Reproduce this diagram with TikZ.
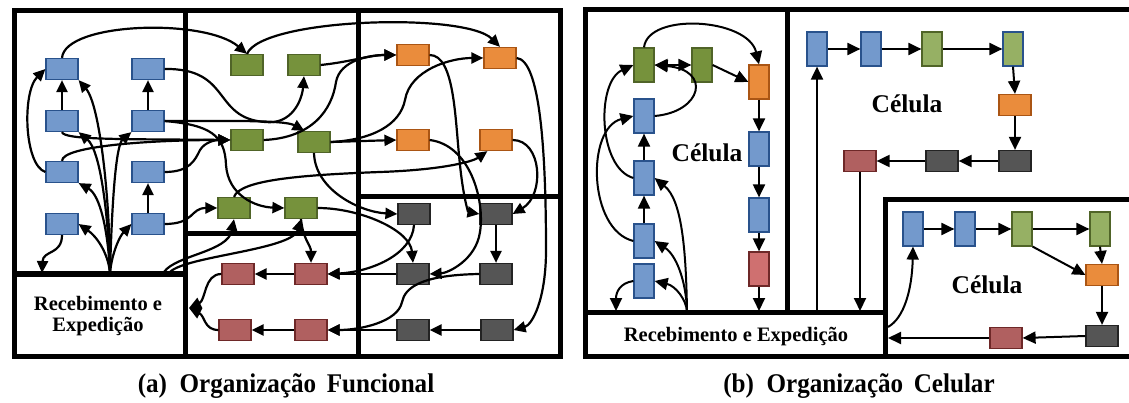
\documentclass[tikz,border=0pt]{standalone}
\usepackage{fontspec}
\setmainfont{Liberation Serif}[BoldFont={Liberation Serif Bold}]
\newfontfamily\tnrb{Liberation Serif Bold}
\usetikzlibrary{arrows.meta}
\definecolor{cblue}{RGB}{115,153,204}
\definecolor{cblueB}{RGB}{41,82,140}
\definecolor{cgreen}{RGB}{118,146,60}
\definecolor{cgreenB}{RGB}{80,100,40}
\definecolor{cgreenL}{RGB}{150,176,100}
\definecolor{corange}{RGB}{234,140,60}
\definecolor{corangeB}{RGB}{170,85,20}
\definecolor{cdark}{RGB}{85,85,85}
\definecolor{cdarkB}{RGB}{35,35,35}
\definecolor{cred}{RGB}{176,96,96}
\definecolor{credB}{RGB}{110,40,40}
\definecolor{credL}{RGB}{207,112,112}
\tikzset{
  hbox/.style={draw, line width=1.2pt, minimum width=32pt, minimum height=21pt, inner sep=0pt},
  vbox/.style={draw, line width=1.2pt, minimum width=20pt, minimum height=34pt, inner sep=0pt},
  bl/.style={fill=cblue, draw=cblueB},
  gr/.style={fill=cgreen, draw=cgreenB},
  grl/.style={fill=cgreenL, draw=cgreenB},
  og/.style={fill=corange, draw=corangeB},
  dk/.style={fill=cdark, draw=cdarkB},
  rd/.style={fill=cred, draw=credB},
  rdl/.style={fill=credL, draw=credB},
  conn/.style={line width=2.2pt, -{Triangle[length=12pt,width=11pt]}},
  connb/.style={line width=2pt, -{Triangle[length=13pt,width=12pt]}},
  frame/.style={line width=5pt, line cap=rect, line join=miter},
  rectext/.style={font=\tnrb\fontsize{20.5}{21.5}\selectfont, align=center, inner sep=0pt},
  celtext/.style={font=\tnrb\fontsize{25.5}{28}\selectfont, inner sep=0pt},
  captext/.style={font=\tnrb\fontsize{27}{30}\selectfont, inner sep=0pt, anchor=base},
}
\begin{document}
\begin{tikzpicture}[x=1pt, y=-1pt]
\useasboundingbox (0,0) rectangle (1129,403);
% ---------- frames (a)
\draw[frame] (14,11) rectangle (560,356);
\draw[frame] (185,11) -- (185,356);
\draw[frame] (358,11) -- (358,356);
\draw[frame] (14,274) -- (185,274);
\draw[frame] (185,234) -- (358,234);
\draw[frame] (358,197) -- (560,197);
% ---------- frames (b)
\draw[frame] (1140,10) -- (585,10) -- (585,356) -- (1140,356);
\draw[frame] (787,10) -- (787,312);
\draw[frame] (585,312) -- (885,312);
\draw[frame] (885,356) -- (885,200) -- (1140,200);

% ---------- texts
\node[rectext] (recA) at (98,316) {Recebimento e\\Expedição};
\node[rectext] (recB) at (736,337) {Recebimento e Expedição};
\node[celtext] (cel1) at (707,153) {Célula};
\node[celtext] (cel2) at (907,104) {Célula};
\node[celtext] (cel3) at (987,285) {Célula};
\node[captext] (capA) at (286,392) {\scalebox{0.93}[1]{(a)\hspace{0.5em}Organização\hspace{0.42em}Funcional}};
\node[captext] (capB) at (859,392) {\scalebox{0.93}[1]{(b)\hspace{0.5em}Organização\hspace{0.42em}Celular}};

% ---------- nodes (a)
\node[hbox,bl] (B1) at (62,69) {};
\node[hbox,bl] (B2) at (148,69) {};
\node[hbox,bl] (B3) at (62,121) {};
\node[hbox,bl] (B4) at (148,121) {};
\node[hbox,bl] (B5) at (62,172) {};
\node[hbox,bl] (B6) at (148,172) {};
\node[hbox,bl] (B7) at (62,224) {};
\node[hbox,bl] (B8) at (148,224) {};
\node[hbox,gr] (G1) at (247,65) {};
\node[hbox,gr] (G2) at (304,65) {};
\node[hbox,gr] (G3) at (247,140) {};
\node[hbox,gr] (G4) at (314,142) {};
\node[hbox,gr] (G5) at (234,208) {};
\node[hbox,gr] (G6) at (301,208) {};
\node[hbox,rd] (R1) at (238,274) {};
\node[hbox,rd] (R2) at (311,274) {};
\node[hbox,rd] (R3) at (235,330) {};
\node[hbox,rd] (R4) at (311,330) {};
\node[hbox,og] (O1) at (413,55) {};
\node[hbox,og] (O2) at (500,58) {};
\node[hbox,og] (O3) at (413,140) {};
\node[hbox,og] (O4) at (496,140) {};
\node[hbox,dk] (D1) at (414,214) {};
\node[hbox,dk] (D2) at (496,214) {};
\node[hbox,dk] (D3) at (413,274) {};
\node[hbox,dk] (D4) at (496,274) {};
\node[hbox,dk] (D5) at (413,330) {};
\node[hbox,dk] (D6) at (497,330) {};
\coordinate (fanA) at (110,273);
\coordinate (a7) at (42,273);
\coordinate (rG5) at (164,272);
\coordinate (rG6) at (170,272);
\coordinate (recR) at (189,308);

% ---------- connectors (a)
\draw[conn] (B3.north) -- (B1.south);
\draw[conn] (B4.north) -- (B2.south);
\draw[conn] (B8.north) -- (B6.south);
\draw[conn] (B5.west) .. controls (24,165) and (22,92) .. (B1.west);
\draw[conn] (B7.south) .. controls (62,255) and (43,250) .. (a7);
\draw[conn] (fanA) .. controls (110,200) and (100,105) .. (B1.south east);
\draw[conn] (fanA) .. controls (108,210) and (100,150) .. (B3.south east);
\draw[conn] (fanA) .. controls (112,200) and (116,145) .. (B4.south west);
\draw[conn] (fanA) .. controls (108,230) and (100,195) .. (B5.south east);
\draw[conn] (fanA) .. controls (108,252) and (96,236) .. (B7.east);
\draw[conn] (fanA) .. controls (112,252) and (120,236) .. (B8.west);
\draw[conn] (B1.north) .. controls (65,22) and (205,18) .. (G1.north);
\draw[conn] (G1.north) .. controls (262,18) and (465,12) .. (O2.north);
\draw[conn] (B2.east) .. controls (232,68) and (212,118) .. (265,122) .. controls (292,125) and (302,100) .. (G2.south);
\draw[conn] (G2.east) .. controls (350,62) and (370,55) .. (O1.west);
\draw[conn] (G3.east) .. controls (312,138) and (332,110) .. (336,82) .. controls (340,60) and (370,55) .. (O1.west);
\draw[conn] (G4.east) -- (O3.west);
\draw[conn] (G4.east) .. controls (372,140) and (400,125) .. (405,100) .. controls (410,70) and (450,58) .. (O2.west);
\draw[conn] (G5.north) .. controls (240,180) and (300,175) .. (380,172) .. controls (440,170) and (472,162) .. ([xshift=8pt]O4.south west);
\draw[conn] (B4.east) .. controls (230,121) and (285,120) .. ([xshift=7pt]G4.north west);
\draw[conn] (B4.east) .. controls (210,125) and (225,135) .. (226,165) .. controls (228,195) and (255,207) .. (G6.west);
\draw[conn] (B3.south) .. controls (64,140) and (120,139) .. (G3.west);
\draw[conn] (B5.north) .. controls (62,146) and (150,140) .. (G3.west);
\draw[conn] (B6.east) .. controls (190,172) and (195,160) .. (200,150) .. controls (205,142) and (215,140) .. (G3.west);
\draw[conn] (B8.east) .. controls (195,224) and (190,208) .. (G5.west);
\draw[conn] (rG5) .. controls (176,255) and (228,252) .. (G5.south);
\draw[conn] (rG6) .. controls (186,256) and (292,250) .. (G6.south);
\draw[conn] (G6.south) .. controls (303,240) and (311,245) .. (R2.north);
\draw[conn] (G6.east) .. controls (360,208) and (410,230) .. (D3.north);
\draw[conn] (G4.south) .. controls (315,190) and (360,212) .. (D1.west);
\draw[conn] (O1.east) .. controls (455,55) and (455,120) .. (460,165) .. controls (463,195) and (468,212) .. (D2.west);
\draw[conn] (O2.east) .. controls (540,60) and (546,150) .. (546,250) .. controls (546,300) and (532,325) .. (D6.east);
\draw[conn] (O3.east) .. controls (470,145) and (485,200) .. (480,232) .. controls (476,260) and (448,273) .. (D3.east);
\draw[conn] (O4.east) .. controls (542,140) and (545,195) .. (D2.east);
\draw[conn] (D2.south) -- (D4.north);
\draw[conn] (D1.south) .. controls (412,255) and (370,272) .. (R2.east);
\draw[conn] (D3.west) -- (R2.east);
\draw[conn] (D4.west) .. controls (420,275) and (405,288) .. (402,302) .. controls (398,322) and (360,330) .. (R4.east);
\draw[conn] (D5.west) -- (R4.east);
\draw[conn] (D6.west) -- (D5.east);
\draw[conn] (R2.west) -- (R1.east);
\draw[conn] (R4.west) -- (R3.east);
\draw[conn] (R1.west) .. controls (204,274) and (206,300) .. (recR);
\draw[conn] (R3.west) .. controls (204,330) and (205,316) .. (recR);

% ---------- nodes (b) left cell
\node[vbox,gr] (LG1) at (644,65) {};
\node[vbox,gr] (LG2) at (702,65) {};
\node[vbox,og] (LO) at (759,82) {};
\node[vbox,bl] (LB5) at (759,149) {};
\node[vbox,bl] (LB6) at (759,215) {};
\node[vbox,rdl] (LR) at (759,269) {};
\node[vbox,bl] (LB1) at (644,116) {};
\node[vbox,bl] (LB2) at (644,178) {};
\node[vbox,bl] (LB3) at (644,241) {};
\node[vbox,bl] (LB4) at (644,281) {};
\coordinate (fanB) at (687,311);
\coordinate (b1) at (616,311);
\coordinate (b2) at (759,311);

\draw[connb] (LG1.north) .. controls (648,12) and (748,18) .. (LO.north);
\draw[connb, {Triangle[length=13pt,width=12pt]}-{Triangle[length=13pt,width=12pt]}] (LG1.east) -- (LG2.west);
\draw[connb] (LB1.east) .. controls (702,112) and (712,70) .. (LG1.east);
\draw[connb] (LG2.east) -- (LO.west);
\draw[connb] (LO.south) -- (LB5.north);
\draw[connb] (LB5.south) -- (LB6.north);
\draw[connb] (LB6.south) -- (LR.north);
\draw[connb] (LR.south) -- (b2);
\draw[connb] (LB2.north) -- (LB1.south);
\draw[connb] (LB3.north) -- (LB2.south);
\draw[connb] (LB2.west) .. controls (598,168) and (596,82) .. (LG1.west);
\draw[connb] (LB3.west) .. controls (588,230) and (586,128) .. (LB1.west);
\draw[connb] (fanB) .. controls (686,250) and (682,200) .. (LB2.east);
\draw[connb] (fanB) .. controls (686,280) and (676,255) .. (LB3.east);
\draw[connb] (fanB) .. controls (686,300) and (676,286) .. (LB4.east);
\draw[connb] (LB4.west) .. controls (620,283) and (616,292) .. (b1);

% ---------- nodes (b) upper right
\node[vbox,bl] (UB1) at (817,49) {};
\node[vbox,bl] (UB2) at (871,49) {};
\node[vbox,grl] (UG1) at (932,49) {};
\node[vbox,grl,draw=cblueB] (UG2) at (1013,49) {};
\node[hbox,og] (UO) at (1015,105) {};
\node[hbox,dk] (UD1) at (1015,161) {};
\node[hbox,dk] (UD2) at (942,161) {};
\node[hbox,rd] (UR) at (860,161) {};
\coordinate (u1) at (817,311);
\coordinate (u2) at (860,311);
\draw[connb] (UB1.east) -- (UB2.west);
\draw[connb] (UB2.east) -- (UG1.west);
\draw[connb] (UG1.east) -- (UG2.west);
\draw[connb] (UG2.south) -- (UO.north);
\draw[connb] (UO.south) -- (UD1.north);
\draw[connb] (UD1.west) -- (UD2.east);
\draw[connb] (UD2.west) -- (UR.east);
\draw[connb] (UR.south) -- (u2);
\draw[connb] (u1) -- (UB1.south);

% ---------- nodes (b) lower right
\node[vbox,bl] (VB1) at (913,229) {};
\node[vbox,bl] (VB2) at (965,229) {};
\node[vbox,grl] (VG1) at (1022,229) {};
\node[vbox,grl] (VG2) at (1100,229) {};
\node[hbox,og] (VO) at (1102,275) {};
\node[hbox,dk] (VD) at (1102,336) {};
\node[hbox,rd] (VR) at (1006,338) {};
\coordinate (v1) at (888,338);
\coordinate (v2) at (888,327);
\draw[connb] (VB1.east) -- (VB2.west);
\draw[connb] (VB2.east) -- (VG1.west);
\draw[connb] (VG1.east) -- (VG2.west);
\draw[connb] (VG2.south) -- (VO.north);
\draw[connb] (VG1.south east) -- (VO.west);
\draw[connb] (VO.south) -- (VD.north);
\draw[connb] (VD.west) -- (VR.east);
\draw[connb] (VR.west) -- (v1);
\draw[connb] (v2) .. controls (904,318) and (912,290) .. (VB1.south);
\end{tikzpicture}
\end{document}
